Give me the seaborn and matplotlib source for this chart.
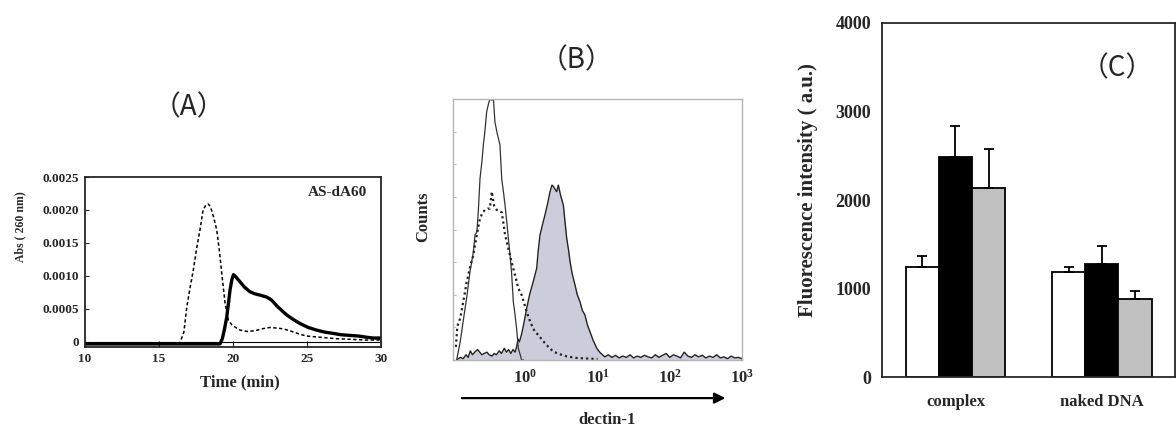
import numpy as np
import pandas as pd
import matplotlib
matplotlib.use("Agg")
import matplotlib.pyplot as plt
import seaborn as sns

# ---- (A) elution profiles ----
complex_t = [10, 12, 14, 16, 18, 19.0, 19.14, 19.3, 19.45, 19.6, 19.72, 19.82, 19.95, 20.05,
             20.2, 20.5, 20.8, 21.17, 21.5, 21.85, 22.3, 22.6, 22.97, 23.3, 23.65, 24.1, 24.55,
             25.1, 25.67, 26.2, 26.8, 27.3, 27.9, 28.5, 29.1, 29.5, 30]
complex_abs = [-0.00003, -0.00003, -0.00003, -0.00003, -0.00003, -0.00003, -0.00003, 0.00005,
               0.0002, 0.00038, 0.0006, 0.00079, 0.00095, 0.00102, 0.00099, 0.00091, 0.00083,
               0.00076, 0.00073, 0.00071, 0.00068, 0.00064, 0.00055, 0.00048, 0.00041, 0.00034,
               0.00028, 0.00022, 0.00018, 0.00015, 0.00013, 0.00011, 0.0001, 0.00009, 0.00007,
               0.00006, 0.00006]
free_t = [10, 12, 14, 16, 16.44, 16.7, 16.9, 17.1, 17.34, 17.55, 17.79, 18.0, 18.2, 18.35, 18.5,
          18.7, 18.92, 19.1, 19.26, 19.49, 19.71, 19.94, 20.2, 20.5, 20.95, 21.5, 22.0, 22.53,
          23.0, 23.4, 24.0, 24.5, 25.0, 26.0, 27.0, 28.0, 29.0, 30]
free_abs = [-0.00002, -0.00002, -0.00002, -0.00002, -0.00001, 0.00015, 0.00053, 0.0008, 0.00109,
            0.0014, 0.0017, 0.0020, 0.00208, 0.00209, 0.00205, 0.0019, 0.0017, 0.00138, 0.00104,
            0.00058, 0.00033, 0.00026, 0.00022, 0.00018, 0.00016, 0.00017, 0.0002, 0.00022,
            0.00021, 0.0002, 0.00016, 0.00012, 0.00009, 0.00007, 0.00005, 0.00004, 0.00003, 0.00003]

# ---- (B) flow cytometry histograms (log10 intensity, counts) ----
ctrl_log = [-0.95, -0.90, -0.86, -0.81, -0.765, -0.72, -0.695, -0.67, -0.65, -0.626, -0.60, -0.58,
            -0.557, -0.534, -0.51, -0.49, -0.46, -0.44, -0.42, -0.39, -0.35, -0.326, -0.30, -0.28,
            -0.256, -0.234, -0.21, -0.19, -0.165, -0.14, -0.12, -0.096, -0.07, -0.05, -0.02]
ctrl_cnt = [0, 7, 14.7, 24, 33.8, 41, 47.9, 49, 56.8, 69.6, 76, 82.4, 88, 95.1, 98, 100, 99.5, 100,
            91.3, 87, 82.4, 69.6, 64, 59.4, 53, 46.6, 40, 33.8, 22.3, 17, 12.1, 4.5, 2, 0, 0]
dect_log = [-0.96, -0.94, -0.90, -0.86, -0.81, -0.76, -0.72, -0.67, -0.626, -0.59, -0.557, -0.52,
            -0.49, -0.464, -0.43, -0.395, -0.36, -0.326, -0.30, -0.28, -0.245, -0.21, -0.175,
            -0.142, -0.096, -0.05, 0.02, 0.05, 0.089, 0.13, 0.18, 0.24, 0.297, 0.34, 0.389, 0.48,
            0.574, 0.7, 0.9, 1.0]
dect_cnt = [5, 13, 16, 22, 30, 36, 40, 48, 54.3, 56.5, 57.5, 58, 58, 64.5, 59, 57.5, 57, 56.6, 52,
            48, 44, 40, 36, 32.6, 27.5, 24.9, 18.5, 16, 13.4, 11, 9.6, 7.5, 5.7, 4.5, 3.2, 2.2, 1.4,
            0.8, 0.5, 0.4]
pos_log = [-0.95, -0.9, -0.86, -0.82, -0.79, -0.76, -0.73, -0.70, -0.66, -0.63, -0.60, -0.57, -0.53,
           -0.50, -0.46, -0.43, -0.40, -0.36, -0.33, -0.29, -0.26, -0.23, -0.20, -0.17, -0.14,
           -0.12, -0.10, -0.08, -0.05, -0.02, 0.02, 0.06, 0.11, 0.158, 0.18, 0.204, 0.24, 0.273,
           0.31, 0.343, 0.37, 0.389, 0.41, 0.435, 0.458, 0.49, 0.527, 0.55, 0.574, 0.60, 0.62,
           0.65, 0.689, 0.72, 0.758, 0.79, 0.827, 0.86, 0.896, 0.94, 0.99, 1.03, 1.07, 1.1, 1.15,
           1.2, 1.25, 1.3, 1.35, 1.4, 1.45, 1.5, 1.55, 1.6, 1.65, 1.7, 1.75, 1.8, 1.85, 1.9, 1.95,
           2.0, 2.05, 2.1, 2.15, 2.2, 2.25, 2.3, 2.35, 2.4, 2.45, 2.5, 2.55, 2.6, 2.65, 2.7, 2.75,
           2.8, 2.85, 2.9, 2.95, 3.0]
pos_cnt = [0, 1, 0.5, 2, 1, 3.5, 2, 3, 4, 3, 2, 2.5, 3, 2, 1.5, 2.5, 2, 3.5, 2.5, 4.5, 3, 4, 2.5, 4,
           3, 5, 8, 7, 10, 14, 19.8, 25, 30, 35.1, 42, 47.9, 52, 55.6, 60, 64.5, 67, 66.5, 65.5,
           64.5, 67, 63, 59.4, 53, 46.6, 42, 37.7, 33, 28.7, 25, 22.3, 19, 17.2, 13.5, 10.8, 7.5,
           4.5, 3, 2, 1.2, 2, 1, 1.8, 0.8, 1.5, 1, 2, 0.8, 1.5, 1, 1.8, 1.2, 0.8, 2, 1, 1.8, 2.5,
           1, 2, 1.5, 0.8, 3, 1.5, 1, 2, 1.2, 1.8, 0.8, 1.5, 1, 2, 0.8, 1.2, 0.5, 1.5, 0.8, 1, 0.5]

# ---- (C) fluorescence intensity ----
groups = ["complex", "naked DNA"]
conditions = ["c1", "c2", "c3"]
fluor_mean = {"c1": [1248, 1188], "c2": [2481, 1274], "c3": [2139, 887]}
fluor_err = {"c1": [124, 60], "c2": [354, 207], "c3": [440, 83]}
bar_colors = ["white", "black", "#c0c0c0"]

sns.set_style("ticks")
plt.rcParams["font.family"] = ["Liberation Serif", "DejaVu Serif"]
plt.rcParams["font.weight"] = "bold"
plt.rcParams["mathtext.fontset"] = "custom"
plt.rcParams["mathtext.rm"] = "Liberation Serif"
plt.rcParams["mathtext.bf"] = "Liberation Serif:bold"
CJK = ["Noto Sans CJK JP", "DejaVu Sans"]

fig = plt.figure(figsize=(11.76, 4.28), dpi=100)
W, H = 1176, 428


def add_axes_px(x0, x1, y_top, y_bot):
    return fig.add_axes([x0 / W, 1 - y_bot / H, (x1 - x0) / W, (y_bot - y_top) / H])


# ---------------- panel A ----------------
axA = add_axes_px(84.7, 380.7, 177, 347)
axA.axhline(0, color="black", lw=0.8)
sns.lineplot(x=free_t, y=free_abs, ax=axA, color="black", lw=1.1, linestyle=(0, (2.2, 1.6)))
sns.lineplot(x=complex_t, y=complex_abs, ax=axA, color="black", lw=2.4)
axA.set_xlim(10, 30)
axA.set_ylim(-0.000076, 0.0025)
axA.set_xticks([10, 15, 20, 25, 30])
axA.set_yticks([0, 0.0005, 0.0010, 0.0015, 0.0020, 0.0025])
axA.set_yticklabels(["0", "0.0005", "0.0010", "0.0015", "0.0020", "0.0025"])
axA.tick_params(axis="y", direction="in", length=3, labelsize=9.5, pad=4)
axA.tick_params(axis="x", direction="in", length=4, labelsize=9.5, pad=4)
for s in axA.spines.values():
    s.set_linewidth(1.3)
    s.set_visible(True)
axA.set_xlabel("Time (min)", fontsize=12, fontweight="bold", va="center")
axA.xaxis.set_label_coords(0.525, -0.21)
axA.set_ylabel("Abs ( 260 nm)", fontsize=8.5, fontweight="bold", va="center")
axA.yaxis.set_label_coords(-0.2186, 0.706)
axA.text(0.954, 0.906, "AS-dA60", transform=axA.transAxes, ha="right", va="center",
         fontsize=11, fontweight="bold")

# ---------------- panel B ----------------
axB = add_axes_px(453, 742, 99, 360)
axB.set_xscale("log")
pos_x = [10 ** v for v in pos_log]
axB.fill_between(pos_x, pos_cnt, 0, color="#cccdda", lw=0)
sns.lineplot(x=pos_x, y=pos_cnt, ax=axB, color="#222222", lw=1.0)
sns.lineplot(x=[10 ** v for v in ctrl_log], y=ctrl_cnt, ax=axB, color="#333333", lw=0.9)
sns.lineplot(x=[10 ** v for v in dect_log], y=dect_cnt, ax=axB, color="#222222", lw=1.6,
             linestyle=(0, (1, 1.4)))
axB.set_xlim(0.1, 1000)
axB.set_ylim(0, 100)
axB.set_xticks([1, 10, 100, 1000])
axB.set_xticklabels([r"$\mathbf{10^{0}}$", r"$\mathbf{10^{1}}$", r"$\mathbf{10^{2}}$",
                     r"$\mathbf{10^{3}}$"])
axB.xaxis.set_minor_locator(matplotlib.ticker.NullLocator())
axB.set_yticks([12.5 * k for k in range(1, 8)])
axB.set_yticklabels([])
axB.tick_params(axis="x", direction="in", length=2, color="#aaaaaa", labelsize=12, pad=6)
axB.tick_params(axis="y", direction="in", length=2, color="#bbbbbb")
for s in axB.spines.values():
    s.set_color("#b5b5b5")
    s.set_linewidth(1.0)
    s.set_visible(True)
axB.set_ylabel("Counts", fontsize=12, fontweight="bold", va="center")
axB.yaxis.set_label_coords(-0.104, 0.548)
axB.set_xlabel("")
axB.annotate("", xy=(0.952, -0.146), xytext=(0.021, -0.146), xycoords="axes fraction",
             textcoords="axes fraction", annotation_clip=False,
             arrowprops=dict(arrowstyle="-|>", color="black", lw=1.6, mutation_scale=16))
axB.text(0.533, -0.23, "dectin-1", transform=axB.transAxes, ha="center", va="center",
         fontsize=12, fontweight="bold")

# ---------------- panel C ----------------
axC = add_axes_px(882.3, 1175, 22.7, 377.3)
rows = []
for c in conditions:
    for g, m in zip(groups, fluor_mean[c]):
        rows.append({"group": g, "cond": c, "value": m})
df = pd.DataFrame(rows)
sns.barplot(data=df, x="group", y="value", hue="cond", hue_order=conditions, order=groups,
            palette=bar_colors, edgecolor="black", linewidth=1.3, width=0.68,
            errorbar=None, legend=False, ax=axC, saturation=1)
for cont, c in zip(axC.containers, conditions):
    xs = [b.get_x() + b.get_width() / 2 for b in cont]
    hs = [b.get_height() for b in cont]
    axC.errorbar(xs, hs, yerr=[[0] * len(hs), fluor_err[c]], fmt="none", ecolor="black",
                 elinewidth=1.3, capsize=3.5, capthick=1.3)
axC.set_xlim(-0.5, 1.5)
axC.set_ylim(0, 4000)
axC.set_yticks([0, 1000, 2000, 3000, 4000])
axC.tick_params(axis="y", length=0, labelsize=13, pad=8)
axC.tick_params(axis="x", length=0, labelsize=12, pad=12)
for s in axC.spines.values():
    s.set_linewidth(1.3)
    s.set_visible(True)
axC.set_xlabel("")
axC.set_ylabel("Fluorescence intensity ( a.u.)", fontsize=15, fontweight="bold", va="center")
axC.yaxis.set_label_coords(-0.253, 0.528)

# panel letters
for label, px, py in [("（A）", 189, 107), ("（B）", 577, 60), ("（C）", 1117, 68)]:
    fig.text(px / W, 1 - py / H, label, family=CJK, fontweight="normal", fontsize=20,
             ha="center", va="center")

fig.savefig("out.png", dpi=100)
